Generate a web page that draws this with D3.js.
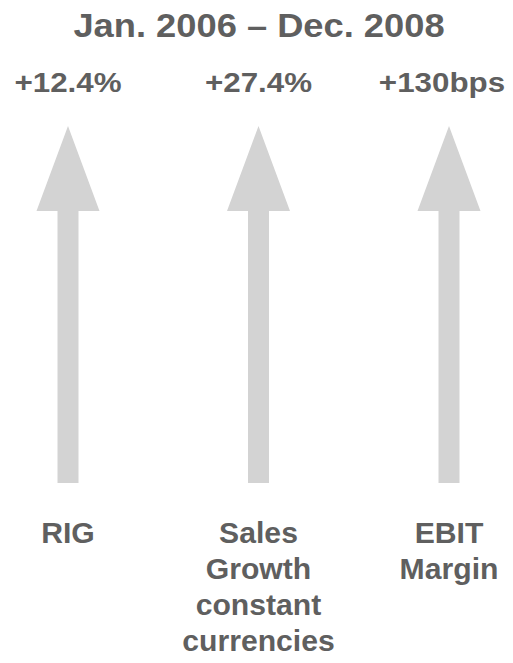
<!DOCTYPE html>
<html>
<head>
<meta charset="utf-8">
<script src="https://cdn.jsdelivr.net/npm/d3@7"></script>
<style>
  body { margin: 0; background: #fff; }
  text { font-family: "Liberation Sans", Arial, sans-serif; font-weight: bold; fill: #5f5f5f; }
</style>
</head>
<body>
<script>
// Data
var title = "Jan. 2006 \u2013 Dec. 2008";
var categories = ["RIG", "Sales", "EBIT"];
var changes = ["+12.4%", "+27.4%", "+130bps"];
var labelLines = [["RIG"], ["Sales", "Growth", "constant", "currencies"], ["EBIT", "Margin"]];
var arrowValues = [1, 1, 1];

var width = 513, height = 663;

var svg = d3.select("body").append("svg")
    .attr("width", width)
    .attr("height", height);

// x positions of the arrows
var x = d3.scalePoint()
    .domain(categories)
    .range([68, 449]);

// vertical scale for arrow length
var y = d3.scaleLinear()
    .domain([0, 1])
    .range([483, 126]);

var headH = 85, headW = 31.5, shaftW = 10.5;

// title
svg.append("text")
    .attr("x", 259)
    .attr("y", 37)
    .attr("text-anchor", "middle")
    .style("font-size", "33px")
    .attr("transform", "translate(259,0) scale(1.1,1) translate(-259,0)")
    .text(title);

// arrows
svg.selectAll("path.arrow")
    .data(categories)
    .enter().append("path")
    .attr("class", "arrow")
    .attr("fill", "#d3d3d3")
    .attr("d", function(d, i) {
      var cx = x(d), top = y(arrowValues[i]), bot = y(0);
      return "M" + cx + "," + top +
             "L" + (cx + headW) + "," + (top + headH) +
             "L" + (cx + shaftW) + "," + (top + headH) +
             "L" + (cx + shaftW) + "," + bot +
             "L" + (cx - shaftW) + "," + bot +
             "L" + (cx - shaftW) + "," + (top + headH) +
             "L" + (cx - headW) + "," + (top + headH) + "Z";
    });

// change values above arrows
svg.selectAll("text.change")
    .data(categories)
    .enter().append("text")
    .attr("class", "change")
    .attr("text-anchor", "middle")
    .style("font-size", "28px")
    .attr("transform", function(d, i) {
      var cx = i === 2 ? x(d) - 7 : x(d);
      return "translate(" + cx + ",92) scale(1.12,1)";
    })
    .text(function(d, i) { return changes[i]; });

// category labels below arrows
var labels = svg.selectAll("text.label")
    .data(categories)
    .enter().append("text")
    .attr("class", "label")
    .attr("text-anchor", "middle")
    .style("font-size", "29px")
    .attr("transform", function(d) { return "translate(" + x(d) + ",543) scale(1.04,1)"; });

labels.selectAll("tspan")
    .data(function(d, i) { return labelLines[i]; })
    .enter().append("tspan")
    .attr("x", 0)
    .attr("dy", function(d, j) { return j === 0 ? 0 : 36; })
    .text(function(d) { return d; });
</script>
</body>
</html>
